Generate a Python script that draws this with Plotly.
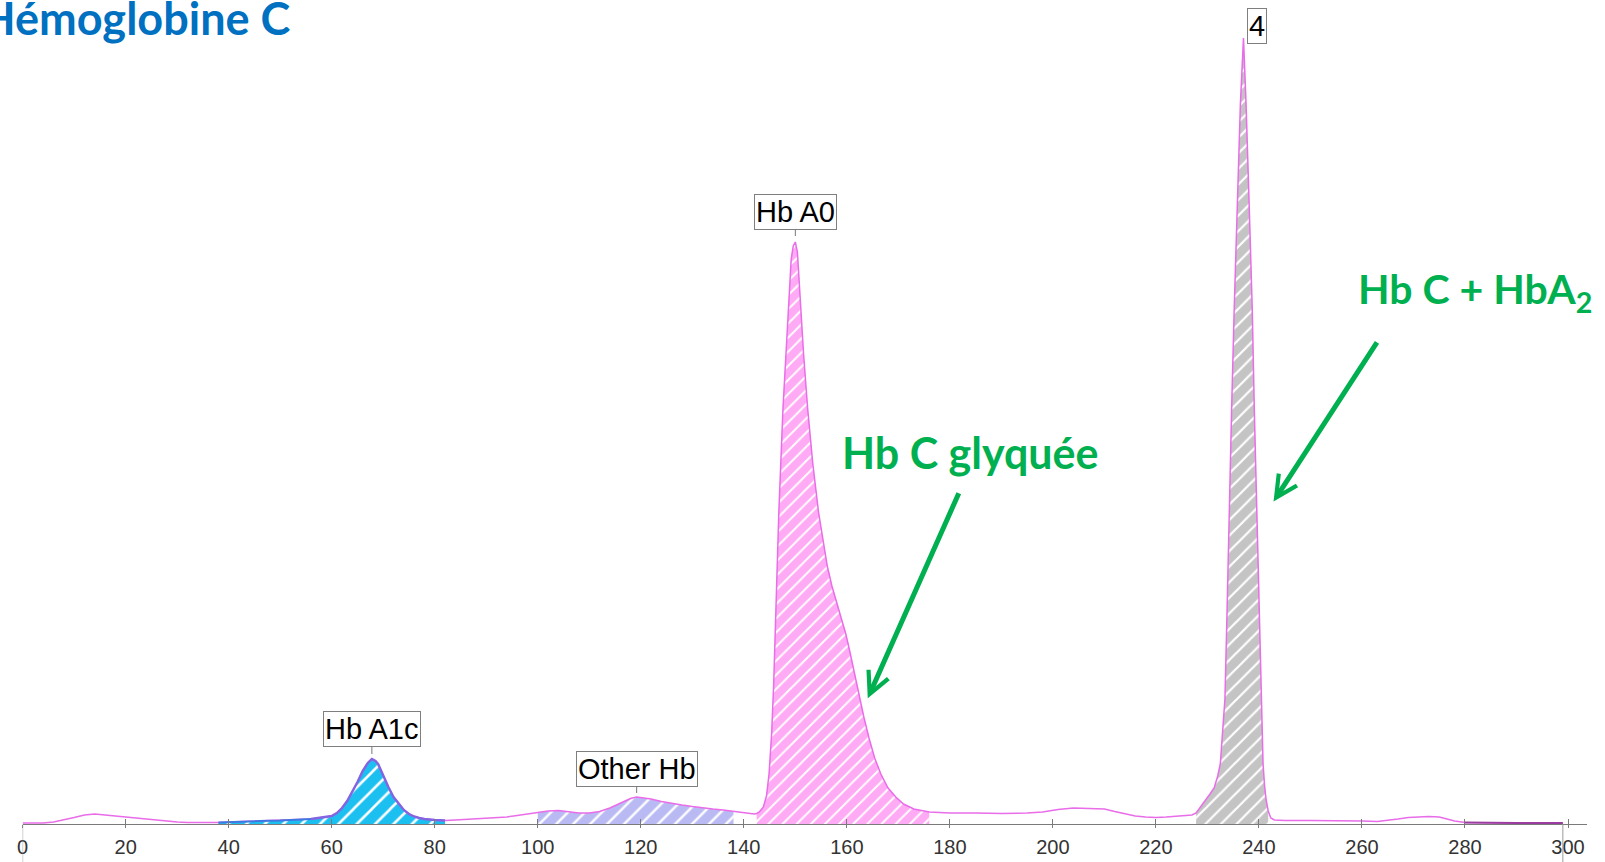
import numpy as np
import plotly.graph_objects as go

# ---------------- data ----------------
retention = [0, 2, 4, 6, 8, 10, 12, 14, 16, 18, 20, 22, 24, 26, 28, 30, 32, 35, 38,
             40, 43, 46, 50, 53, 56, 58, 60, 61, 62, 63, 64, 65, 66, 67, 67.8, 68.5, 69, 70,
             71, 72, 73, 74, 75, 76, 77, 78, 80, 82,
             84, 86, 88, 90, 92, 94, 96, 98, 100, 102, 104, 106, 108, 110, 112, 114, 116,
             118, 119.2, 120, 122, 124, 126, 128, 130, 132, 134, 136, 138, 140, 141, 142,
             142.5, 143, 143.8, 144.4, 144.9, 145.4, 145.8, 146.3, 146.8, 147.6, 148.6,
             149.2, 149.6, 150.0, 150.4, 151.0, 151.6, 152.4, 153.4, 154.5, 155.3, 156.2,
             157.1, 158.0, 159.0, 159.8, 160.6, 161.5, 162.4, 163.3, 164.3, 165.4, 166.6,
             168.0, 169.5, 171.0, 173.0, 175.0, 176.0, 178, 180, 185, 190, 195, 198, 201,
             204, 207, 210, 212, 214, 216, 218, 220, 222, 224, 226, 227, 227.8, 228.8,
             229.8, 230.5, 231.3, 232.0, 232.5, 233.0, 233.4, 233.8, 234.2, 234.7, 235.2,
             235.8, 236.4, 237.0, 237.5, 238.1, 238.7, 239.1, 239.6, 240.0, 240.4, 240.8,
             241.1, 241.4, 241.8, 242.3, 243.0, 245, 250, 255, 260, 263, 265, 267, 269,
             271, 273, 275, 276.5, 278, 280, 285, 290, 295, 299]
signal = [1, 1, 1, 2, 4, 6.5, 9, 10, 9, 8, 6.5, 5.5, 4.5, 3.5, 2.5, 2, 1.5, 1.2, 1.5,
          2, 2.5, 3, 3.5, 4, 5, 6.5, 8, 11, 16, 23, 32, 42, 53, 61, 65, 63, 60, 48,
          37, 27, 20, 14, 10, 7.5, 6, 5, 4, 3.5,
          4, 4.5, 5, 5.5, 6, 7, 8.5, 10, 12, 13, 13.5, 12.5, 11, 11, 12.5, 16, 21,
          25.5, 27, 26.5, 25, 22.5, 20.5, 19, 17.5, 16, 15, 14, 12.5, 11, 10, 10,
          10.5, 12, 17, 28, 50, 90, 140, 225, 312, 415, 517,
          565, 578, 582, 572, 517, 470, 415, 360, 312, 285, 258,
          238, 222, 205, 190, 172, 150, 128, 107, 86, 66, 50,
          36, 27, 20, 15, 12.5, 12, 11.5, 11, 11, 10.5, 11, 12, 14.5,
          16, 15.5, 15, 12.5, 10, 8, 7, 6.5, 7, 7.5, 8, 9, 11, 18,
          24, 30, 36, 48, 60, 95, 125, 210, 310, 415, 515,
          620, 720, 786, 720, 620, 515, 415, 310, 225, 125, 60,
          38, 24, 13, 6, 4, 3.5, 3.5, 3.5, 3, 2.5, 3.5, 5, 6.5,
          7, 7.5, 7, 5, 3, 1.5, 1, 1, 1, 1]

# integrated peak windows (start, end) in retention units
peak_names = ["Hb A1c", "Other Hb", "Hb A0", "4"]
peak_start = [38, 100, 142.5, 227.8]
peak_end = [82, 138, 176, 241.8]
peak_apex = [67.8, 119.2, 150.0, 237.0]
peak_fill = ["#1bbff0", "#b9b9f3", "#ffaaf4", "#c4c4c4"]
hatch_size = [13, 12, 10, 11]

x_ticks = list(range(0, 301, 20))

# ---------------- figure ----------------
W, H = 1605, 862
MB = 38
PH = H - MB
x = np.array(retention, dtype=float)
y = np.array(signal, dtype=float)

def px(v):
    return v / W

def py(v):
    return (PH - v) / PH

fig = go.Figure()

for name, s, e, col, hs in zip(peak_names, peak_start, peak_end, peak_fill, hatch_size):
    m = (x >= s) & (x <= e)
    fig.add_trace(go.Scatter(
        x=x[m], y=y[m], mode="lines", line=dict(width=0, color=col),
        fill="tozeroy", fillcolor=col,
        fillpattern=dict(shape="/", fgcolor="white", bgcolor=col,
                         size=hs, solidity=0.2, fillmode="replace"),
        hoverinfo="skip", showlegend=False))

fig.add_trace(go.Scatter(x=x, y=y, mode="lines",
                         line=dict(color="#e96ce9", width=1.5),
                         showlegend=False, hoverinfo="skip"))

# A1c outline drawn darker, as in the instrument print-out
m = (x >= 56) & (x <= peak_end[0])
fig.add_trace(go.Scatter(x=x[m], y=y[m], mode="lines",
                         line=dict(color="#8464e0", width=2.4),
                         showlegend=False, hoverinfo="skip"))
m = (x >= 38) & (x <= 56)
fig.add_trace(go.Scatter(x=x[m], y=y[m], mode="lines",
                         line=dict(color="#3f78e0", width=2),
                         showlegend=False, hoverinfo="skip"))
m = x >= 280
fig.add_trace(go.Scatter(x=x[m], y=y[m], mode="lines",
                         line=dict(color="#9a3ca0", width=1.8),
                         showlegend=False, hoverinfo="skip"))
# helper trace so the second (inside ticks) axis is drawn
fig.add_trace(go.Scatter(x=[None], y=[None], xaxis="x2", showlegend=False))

dom = [16.7 / W, 1587 / W]
axis_col = "#7a7a7a"
fig.update_layout(
    width=W, height=H,
    margin=dict(l=0, r=0, t=0, b=MB),
    paper_bgcolor="white", plot_bgcolor="white",
    xaxis=dict(domain=dom, range=[0, 303.7], showline=True, linecolor=axis_col,
               linewidth=1, ticks="outside", ticklen=3, tickwidth=1, tickcolor=axis_col,
               tickvals=x_ticks, ticktext=[str(t) for t in x_ticks],
               showgrid=False, zeroline=False, ticklabelstandoff=2,
               tickfont=dict(family="Liberation Sans, Arial", size=20, color="#333333")),
    xaxis2=dict(domain=dom, overlaying="x", matches="x", anchor="y", side="bottom",
                ticks="inside", ticklen=5, tickwidth=1, tickcolor=axis_col,
                tickvals=x_ticks, showticklabels=False, showline=False,
                showgrid=False, zeroline=False),
    yaxis=dict(domain=[0, 1], range=[0, PH], visible=False, fixedrange=True),
)

# grey vertical marks below the axis at start and end of the run
for xv in [retention[0], retention[-1]]:
    fig.add_shape(type="line", xref="x", yref="paper", x0=xv, x1=xv,
                  y0=0, y1=-MB / PH, line=dict(color="#9a9a9a", width=1))

# peak labels
lab_font = dict(family="Liberation Sans, Arial", size=29, color="black")
label_cfg = {"Hb A1c": (-30, 5), "Other Hb": (-28.5, 4), "Hb A0": (-30.5, 6)}
for name in label_cfg:
    i = peak_names.index(name)
    xa = peak_apex[i]
    ya = float(np.interp(xa, x, y))
    fig.add_annotation(x=xa, y=ya, text=name, showarrow=True, arrowhead=0,
                       arrowwidth=1, arrowcolor="#777777", ax=0, ay=label_cfg[name][0],
                       standoff=label_cfg[name][1],
                       font=lab_font, bgcolor="white", bordercolor="#7f7f7f",
                       borderwidth=1, borderpad=1)
i = peak_names.index("4")
fig.add_annotation(x=peak_apex[i], y=float(np.interp(peak_apex[i], x, y)), text="4",
                   showarrow=False, xshift=14, yshift=12, font=lab_font,
                   bgcolor="white", bordercolor="#7f7f7f", borderwidth=1, borderpad=1)

# title and comments
fig.add_annotation(xref="paper", yref="paper", x=px(287), y=py(18), xanchor="right",
                   yanchor="middle", text="Hémoglobine C", showarrow=False,
                   font=dict(family="Lato", size=45, color="#0070c0", weight="bold"))
green = "#00b050"
fig.add_annotation(xref="paper", yref="paper", x=px(968.5), y=py(453), xanchor="center",
                   yanchor="middle", text="Hb C glyquée", showarrow=False,
                   font=dict(family="Lato", size=43, color=green, weight="bold"))
fig.add_annotation(xref="paper", yref="paper", x=px(1355), y=py(292), xanchor="left",
                   yanchor="middle", text="Hb C + HbA<sub>2</sub>", showarrow=False,
                   font=dict(family="Lato", size=41, color=green, weight="bold"))
# green arrows
for (tx, ty), (hx, hy) in [((956.7, 491.7), (865, 698.3)), ((1376.7, 340.9), (1272.3, 501.6))]:
    fig.add_annotation(xref="paper", yref="paper", x=px(hx), y=py(hy), text="",
                       showarrow=True, arrowhead=5, arrowsize=0.85, arrowwidth=5,
                       arrowcolor=green, ax=tx - hx, ay=ty - hy)

fig.write_html("out.html")
